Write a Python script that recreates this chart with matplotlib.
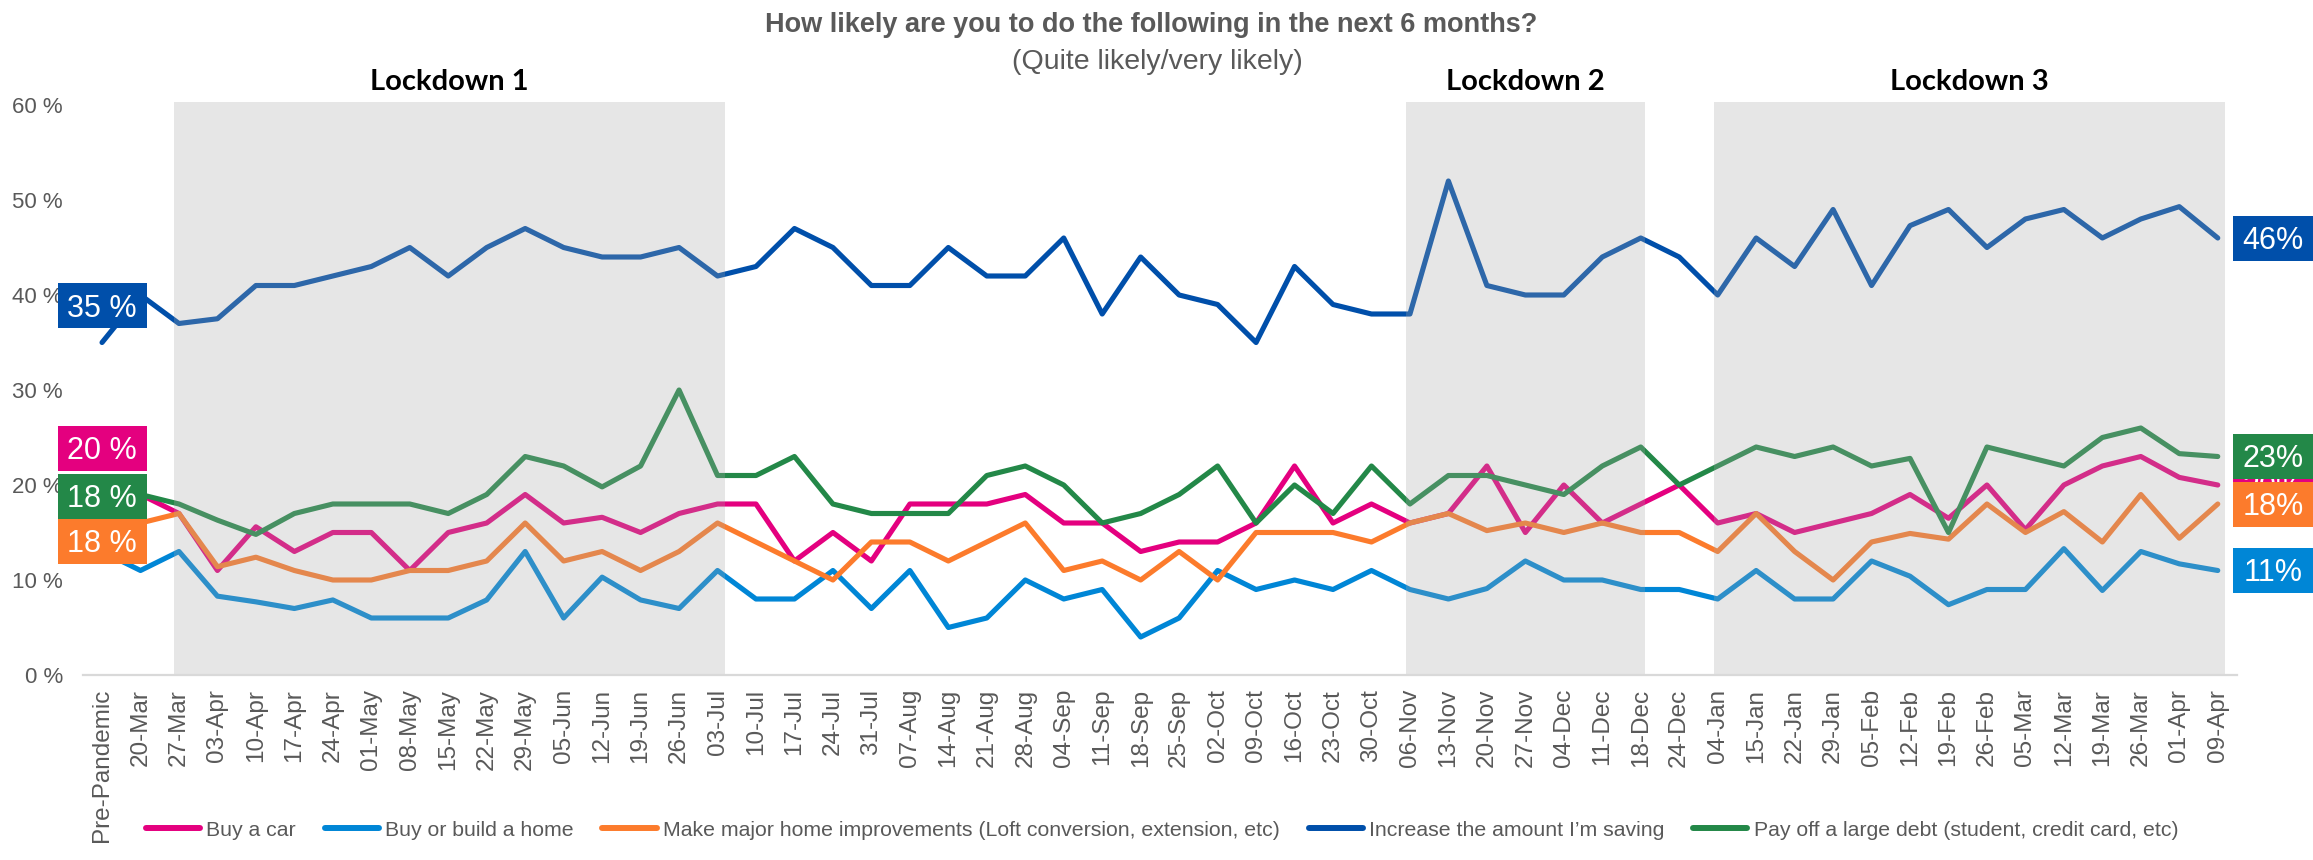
import numpy as np
import matplotlib
matplotlib.use("Agg")
import matplotlib.pyplot as plt
from matplotlib.lines import Line2D
from matplotlib.patches import Rectangle

plt.rcParams['font.family'] = ['Liberation Sans', 'DejaVu Sans']

# ---- data -------------------------------------------------------------
dates = ["Pre-Pandemic", "20-Mar", "27-Mar", "03-Apr", "10-Apr", "17-Apr", "24-Apr",
         "01-May", "08-May", "15-May", "22-May", "29-May", "05-Jun", "12-Jun",
         "19-Jun", "26-Jun", "03-Jul", "10-Jul", "17-Jul", "24-Jul", "31-Jul",
         "07-Aug", "14-Aug", "21-Aug", "28-Aug", "04-Sep", "11-Sep", "18-Sep",
         "25-Sep", "02-Oct", "09-Oct", "16-Oct", "23-Oct", "30-Oct", "06-Nov",
         "13-Nov", "20-Nov", "27-Nov", "04-Dec", "11-Dec", "18-Dec", "24-Dec",
         "04-Jan", "15-Jan", "22-Jan", "29-Jan", "05-Feb", "12-Feb", "19-Feb",
         "26-Feb", "05-Mar", "12-Mar", "19-Mar", "26-Mar", "01-Apr", "09-Apr"]

buy_car = [20, 19, 17, 11, 15.6, 13, 15, 15, 11, 15, 16, 19, 16, 16.6, 15, 17, 18, 18,
           12, 15, 12, 18, 18, 18, 19, 16, 16, 13, 14, 14, 16, 22, 16, 18, 16, 17, 22,
           15, 20, 16, 18, 20, 16, 17, 15, 16, 17, 19, 16.5, 20, 15.3, 20, 22, 23, 20.8, 20]

buy_home = [13, 11, 13, 8.3, 7.7, 7, 7.9, 6, 6, 6, 7.9, 13, 6, 10.3, 7.9, 7, 11, 8, 8,
            11, 7, 11, 5, 6, 10, 8, 9, 4, 6, 11, 9, 10, 9, 11, 9, 8, 9.1, 12, 10, 10, 9,
            9, 8, 11, 8, 8, 12, 10.4, 7.4, 9, 9, 13.3, 8.9, 13, 11.7, 11]

improvements = [18, 16, 17, 11.4, 12.4, 11, 10, 10, 11, 11, 12, 16, 12, 13, 11, 13, 16,
                14, 12, 10, 14, 14, 12, 14, 16, 11, 12, 10, 13, 10, 15, 15, 15, 14, 16,
                17, 15.2, 16, 15, 16, 15, 15, 13, 17, 13, 10, 14, 14.9, 14.3, 18, 15,
                17.2, 14, 19, 14.4, 18]

saving = [35, 40, 37, 37.5, 41, 41, 42, 43, 45, 42, 45, 47, 45, 44, 44, 45, 42, 43, 47,
          45, 41, 41, 45, 42, 42, 46, 38, 44, 40, 39, 35, 43, 39, 38, 38, 52, 41, 40, 40,
          44, 46, 44, 40, 46, 43, 49, 41, 47.3, 49, 45, 48, 49, 46, 48, 49.3, 46]

pay_debt = [18, 19, 18, 16.3, 14.8, 17, 18, 18, 18, 17, 19, 23, 22, 19.8, 22, 30, 21, 21,
            23, 18, 17, 17, 17, 21, 22, 20, 16, 17, 19, 22, 16, 20, 17, 22, 18, 21, 21,
            20, 19, 22, 24, 20, 22, 24, 23, 24, 22, 22.8, 15, 24, 23, 22, 25, 26, 23.3, 23]

series_names = ["Buy a car", "Buy or build a home",
                "Make major home improvements (Loft conversion, extension, etc)",
                "Increase the amount I\u2019m saving",
                "Pay off a large debt (student, credit card, etc)"]
series_values = [buy_car, buy_home, improvements, saving, pay_debt]
series_colors = ["#E4007F", "#0086D6", "#FC7B2C", "#004FAA", "#238848"]

lockdown_names = ["Lockdown 1", "Lockdown 2", "Lockdown 3"]

# ---- layout -----------------------------------------------------------
W, H = 2313, 860
fig = plt.figure(figsize=(W / 100, H / 100), dpi=100)
ax_left, ax_right, ax_bottom, ax_top = 82.8, 2237.0, 675.0, 105.0
ax = fig.add_axes([ax_left / W, (H - ax_bottom) / H,
                   (ax_right - ax_left) / W, (ax_bottom - ax_top) / H])

x = np.arange(len(dates))
ax.set_xlim(-0.5, len(dates) - 0.5)
ax.set_ylim(0, 60)

px_per_x = (ax_right - ax_left) / len(dates)
px_per_y = (ax_bottom - ax_top) / 60.0

for vals, col in zip(series_values, series_colors):
    ax.plot(x, vals, color=col, lw=3.7, solid_capstyle='round',
            solid_joinstyle='round', zorder=2)

# lockdown periods: translucent grey bands laid over the lines
lockdown_spans = [(1.87, 16.2), (33.9, 40.1), (41.9, 55.2)]
for (a, b), name in zip(lockdown_spans, lockdown_names):
    ax.axvspan(a, b, ymin=0, ymax=1.005, facecolor=(0.655, 0.655, 0.655),
               alpha=0.275, lw=0, zorder=3, clip_on=False)
    ax.text((a + b) / 2, 62.4, name, ha='center', va='center', fontsize=21,
            fontweight='bold', family=['Lato', 'DejaVu Sans'], color='#000000',
            clip_on=False)

# axes styling
for s in ['top', 'right', 'left']:
    ax.spines[s].set_visible(False)
ax.spines['bottom'].set_color('#D9D9D9')
ax.spines['bottom'].set_linewidth(1.6)
ax.spines['bottom'].set_zorder(4)
ax.set_yticks(np.arange(0, 61, 10))
ax.set_yticklabels([f"{v} %" for v in range(0, 61, 10)])
ax.set_xticks(x)
ax.set_xticklabels(dates, rotation=90)
ax.tick_params(axis='y', length=0, pad=14.4, labelsize=16, labelcolor='#595959')
ax.tick_params(axis='x', length=0, pad=10, labelsize=17.5, labelcolor='#595959')

layer = [6]


def value_box(xc, yc, wpx, text, color):
    w = wpx / px_per_x
    h = 45 / px_per_y
    z = layer[0]
    layer[0] += 2
    ax.add_patch(Rectangle((xc - w / 2, yc - h / 2), w, h, facecolor=color,
                           edgecolor='none', zorder=z, clip_on=False))
    cap = 0.716 * 22 * 100 / 72 / px_per_y
    ax.text(xc, yc - cap / 2, text, ha='center', va='baseline', fontsize=22,
            color='white', zorder=z + 1, clip_on=False)


# starting values (boxes stacked beside the first point)
left_label_centres = {3: 38.85, 0: 23.87, 4: 18.8, 2: 14.1}
for idx, yc in left_label_centres.items():
    v = series_values[idx][0]
    value_box(0, yc, 89, f"{v:g} %", series_colors[idx])

# latest values
right_x = (2273 - ax_left) / px_per_x - 0.5
for idx in [0, 3, 4, 2, 1]:
    v = series_values[idx][-1]
    value_box(right_x, v, 80, f"{v:g}%", series_colors[idx])

# titles
fig.text(1151 / W, 1 - 25 / H, "How likely are you to do the following in the next 6 months?",
         ha='center', va='center', fontsize=19.5, fontweight='bold', color='#595959')
fig.text(1157 / W, 1 - 62 / H, "(Quite likely/very likely)",
         ha='center', va='center', fontsize=20.5, color='#595959')

# legend
handles = [Line2D([0], [0], color=c, lw=4.3, solid_capstyle='round') for c in series_colors]
fig.legend(handles, series_names, loc='center', bbox_to_anchor=(1162 / W, 30 / H),
           ncol=5, frameon=False, fontsize=15.3, handlelength=2.55,
           handletextpad=0.3, columnspacing=1.35, labelcolor='#595959')

fig.savefig("out.png", dpi=100)
